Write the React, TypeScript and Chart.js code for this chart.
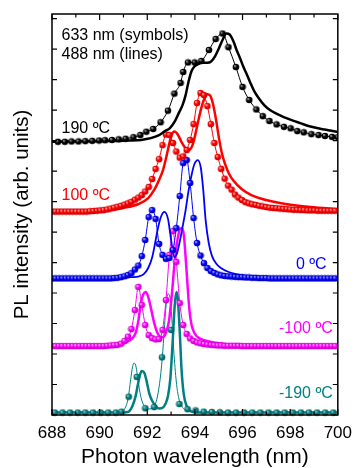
import React, { useEffect, useRef } from "react";
import { Chart, registerables } from "chart.js";

Chart.register(...registerables);

const FONT = "'Liberation Sans', Arial, Helvetica, sans-serif";

// axis ranges
const X_MIN = 688;
const X_MAX = 700;
const X_STEP = 2;
const Y_MIN = 0;
const Y_MAX = 13.15;

// dense wavelength grid (nm) shared by the 100, 0 and -100 ºC 633 nm spectra
const denseWl = [
  688.0, 688.145, 688.29, 688.435, 688.58, 688.725, 688.87, 689.015, 689.16, 689.305,
  689.45, 689.595, 689.74, 689.885, 690.03, 690.175, 690.32, 690.465, 690.61, 690.755,
  690.9, 691.045, 691.19, 691.335, 691.48, 691.625, 691.77, 691.915, 692.06, 692.205,
  692.35, 692.495, 692.64, 692.785, 692.93, 693.075, 693.22, 693.365, 693.51, 693.655,
  693.8, 693.945, 694.09, 694.235, 694.38, 694.525, 694.67, 694.815, 694.96, 695.105,
  695.25, 695.395, 695.54, 695.685, 695.83, 695.975, 696.12, 696.265, 696.41, 696.555,
  696.7, 696.845, 696.99, 697.135, 697.28, 697.425, 697.57, 697.715, 697.86, 698.005,
  698.15, 698.295, 698.44, 698.585, 698.73, 698.875, 699.02, 699.165, 699.31, 699.455,
  699.6, 699.745, 699.89,
];

// 100 ºC, 633 nm (symbols)
const red633 = [
  6.67, 6.67, 6.67, 6.67, 6.67, 6.67, 6.67, 6.67, 6.67, 6.67,
  6.67, 6.68, 6.69, 6.7, 6.71, 6.72, 6.74, 6.77, 6.8, 6.83,
  6.86, 6.9, 6.94, 6.99, 7.06, 7.13, 7.21, 7.33, 7.48, 7.74,
  8.07, 8.39, 8.85, 9.2, 9.18, 8.92, 8.64, 8.44, 8.48, 8.69,
  9.02, 9.54, 10.23, 10.56, 10.49, 10.13, 9.54, 8.92, 8.46, 8.07,
  7.75, 7.52, 7.39, 7.23, 7.13, 7.05, 6.98, 6.94, 6.91, 6.89,
  6.86, 6.84, 6.82, 6.8, 6.79, 6.78, 6.77, 6.76, 6.75, 6.74,
  6.73, 6.73, 6.72, 6.72, 6.71, 6.71, 6.71, 6.7, 6.7, 6.7,
  6.7, 6.7, 6.7,
];

// 0 ºC, 633 nm (symbols)
const blue633 = [
  4.48, 4.48, 4.48, 4.48, 4.48, 4.48, 4.48, 4.48, 4.48, 4.48,
  4.48, 4.48, 4.48, 4.48, 4.48, 4.48, 4.48, 4.48, 4.49, 4.5,
  4.52, 4.55, 4.59, 4.65, 4.77, 4.9, 5.21, 5.74, 6.49, 6.72,
  6.43, 5.61, 5.25, 5.12, 5.15, 5.41, 6.13, 7.18, 8.26, 8.36,
  7.61, 6.46, 5.64, 5.23, 4.98, 4.82, 4.72, 4.66, 4.61, 4.58,
  4.56, 4.55, 4.54, 4.53, 4.52, 4.52, 4.51, 4.51, 4.5, 4.5,
  4.49, 4.49, 4.49, 4.48, 4.48, 4.48, 4.48, 4.48, 4.48, 4.48,
  4.48, 4.48, 4.48, 4.48, 4.48, 4.48, 4.48, 4.48, 4.48, 4.48,
  4.48, 4.48, 4.48,
];

// -100 ºC, 633 nm (symbols)
const mag633 = [
  2.26, 2.26, 2.26, 2.26, 2.26, 2.26, 2.26, 2.26, 2.26, 2.26,
  2.26, 2.26, 2.26, 2.26, 2.26, 2.26, 2.27, 2.28, 2.29, 2.3,
  2.34, 2.43, 2.57, 2.82, 3.44, 4.2, 3.61, 2.95, 2.62, 2.52,
  2.48, 2.49, 2.79, 3.77, 5.25, 6.03, 5.02, 3.67, 2.95, 2.66,
  2.51, 2.43, 2.38, 2.35, 2.33, 2.31, 2.3, 2.29, 2.28, 2.28,
  2.27, 2.27, 2.27, 2.27, 2.27, 2.26, 2.26, 2.26, 2.26, 2.26,
  2.26, 2.26, 2.26, 2.26, 2.26, 2.26, 2.26, 2.26, 2.26, 2.26,
  2.26, 2.26, 2.26, 2.26, 2.26, 2.26, 2.26, 2.26, 2.26, 2.26,
  2.26, 2.26, 2.26,
];

// 190 ºC, 633 nm (symbols)
const black633Wl = [
  688.25, 688.54, 688.82, 689.11, 689.4, 689.69, 689.98, 690.23, 690.52, 690.8,
  691.09, 691.42, 691.71, 691.96, 692.25, 692.56, 692.87, 693.14, 693.4, 693.51,
  693.71, 693.99, 694.27, 694.59, 694.87, 695.16, 695.41, 695.72, 696.0, 696.28,
  696.58, 696.85, 697.13, 697.43, 697.74, 698.02, 698.3, 698.57, 698.89, 699.19,
  699.46, 699.76, 700.0,
];
const black633 = [
  8.96, 8.96, 8.97, 8.97, 8.98, 8.99, 9.0, 9.01, 9.02, 9.04,
  9.06, 9.11, 9.18, 9.29, 9.38, 9.6, 9.98, 10.54, 10.89, 11.25,
  11.56, 11.56, 11.61, 11.97, 12.33, 12.51, 12.06, 11.41, 10.76, 10.33,
  10.02, 9.8, 9.64, 9.53, 9.45, 9.4, 9.31, 9.27, 9.21, 9.18,
  9.15, 9.12, 9.11,
];

// -190 ºC, 633 nm (symbols)
const teal633Wl = [
  688.12, 688.44, 688.76, 689.08, 689.4, 689.72, 690.04, 690.36, 690.68, 690.92,
  691.22, 691.56, 691.92, 692.29, 692.62, 693.0, 693.35, 693.69, 694.03, 694.37,
  694.71, 695.05, 695.39, 695.73, 696.07, 696.41, 696.75, 697.09, 697.43, 697.77,
  698.11, 698.45, 698.79, 699.13, 699.47, 699.81,
];
const teal633 = [
  0.08, 0.08, 0.08, 0.08, 0.08, 0.08, 0.08, 0.08, 0.08, 0.11,
  0.6, 1.25, 0.22, 0.26, 1.89, 2.79, 0.36, 0.19, 0.15, 0.11,
  0.1, 0.09, 0.08, 0.08, 0.08, 0.08, 0.08, 0.08, 0.08, 0.08,
  0.08, 0.08, 0.08, 0.08, 0.08, 0.08,
];
// -190 ºC, thin curve through the 633 nm symbols
const tealFitWl = [
  688.0, 690.39, 690.8, 690.97, 691.09, 691.2, 691.3, 691.38, 691.44, 691.51,
  691.59, 691.69, 691.79, 691.92, 692.08, 692.25, 692.37, 692.49, 692.6, 692.7,
  692.78, 692.87, 692.95, 693.03, 693.11, 693.22, 693.32, 693.44, 693.61, 693.9,
  694.52, 700.0,
];
const tealFit = [
  0.08, 0.08, 0.09, 0.13, 0.26, 0.56, 1.15, 1.57, 1.7, 1.64,
  1.28, 0.75, 0.43, 0.25, 0.2, 0.25, 0.43, 0.89, 1.61, 2.62,
  3.51, 3.97, 3.87, 3.18, 2.13, 1.08, 0.56, 0.3, 0.16, 0.1,
  0.08, 0.08,
];

// 488 nm (lines)
const black488Wl = [
  688.0, 689.98, 691.22, 691.75, 692.45, 692.74, 692.95, 693.15, 693.32, 693.48,
  693.61, 693.73, 693.86, 693.98, 694.14, 694.31, 694.52, 694.68, 694.85, 695.01,
  695.18, 695.32, 695.46, 695.63, 695.75, 695.9, 696.04, 696.19, 696.33, 696.49,
  696.66, 696.91, 697.15, 697.4, 697.73, 698.06, 698.43, 698.85, 699.26, 699.67,
  700.0,
];
const black488 = [
  8.96, 8.98, 9.0, 9.02, 9.16, 9.31, 9.41, 9.62, 9.9, 10.16,
  10.49, 10.92, 11.28, 11.43, 11.51, 11.55, 11.55, 11.59, 11.77, 12.03,
  12.33, 12.51, 12.48, 12.23, 11.97, 11.69, 11.41, 11.15, 10.89, 10.62,
  10.41, 10.16, 10.0, 9.89, 9.77, 9.67, 9.57, 9.46, 9.39, 9.33,
  9.28,
];
const red488Wl = [
  688.0, 689.57, 690.39, 691.01, 691.63, 692.04, 692.29, 692.49, 692.66, 692.8,
  692.91, 693.03, 693.15, 693.28, 693.44, 693.61, 693.75, 693.9, 694.02, 694.14,
  694.27, 694.39, 694.52, 694.64, 694.76, 694.89, 695.01, 695.13, 695.28, 695.42,
  695.63, 695.96, 696.37, 696.99, 697.81, 698.85, 700.0,
];
const red488 = [
  6.64, 6.66, 6.71, 6.79, 6.92, 7.11, 7.38, 7.7, 8.03, 8.46,
  8.85, 9.2, 9.3, 9.2, 8.95, 8.75, 8.69, 8.85, 9.21, 9.64,
  10.07, 10.36, 10.52, 10.48, 10.2, 9.67, 9.08, 8.59, 8.2, 7.93,
  7.67, 7.41, 7.21, 7.05, 6.92, 6.82, 6.75,
];
const blue488Wl = [
  688.0, 689.98, 690.8, 691.3, 691.63, 691.84, 692.04, 692.21, 692.33, 692.45,
  692.58, 692.72, 692.87, 692.99, 693.13, 693.24, 693.36, 693.48, 693.61, 693.73,
  693.86, 693.98, 694.12, 694.25, 694.35, 694.45, 694.58, 694.72, 694.89, 695.09,
  695.42, 695.96, 696.78, 698.23, 700.0,
];
const blue488 = [
  4.48, 4.48, 4.49, 4.52, 4.54, 4.61, 4.82, 5.18, 5.64, 6.13,
  6.51, 6.66, 6.43, 5.8, 5.18, 5.28, 5.67, 6.16, 6.72, 7.34,
  7.87, 8.23, 8.36, 8.1, 7.38, 6.39, 5.64, 5.21, 4.97, 4.82,
  4.69, 4.59, 4.52, 4.49, 4.48,
];
const mag488Wl = [
  688.0, 689.98, 690.6, 691.01, 691.22, 691.38, 691.51, 691.63, 691.73, 691.84,
  691.94, 692.04, 692.16, 692.29, 692.41, 692.54, 692.66, 692.78, 692.91, 693.03,
  693.15, 693.28, 693.36, 693.44, 693.53, 693.61, 693.69, 693.77, 693.86, 693.98,
  694.14, 694.35, 694.6, 694.93, 695.42, 696.16, 697.4, 700.0,
];
const mag488 = [
  2.26, 2.26, 2.28, 2.34, 2.43, 2.52, 2.69, 3.11, 3.67, 3.97,
  4.03, 3.87, 3.48, 3.02, 2.72, 2.57, 2.56, 2.69, 3.08, 3.93,
  5.02, 5.8, 6.07, 6.13, 5.93, 5.18, 4.26, 3.44, 2.95, 2.69,
  2.54, 2.46, 2.41, 2.36, 2.32, 2.28, 2.27, 2.26,
];
const teal488Wl = [
  688.0, 691.01, 691.22, 691.38, 691.51, 691.61, 691.69, 691.77, 691.88, 691.98,
  692.08, 692.21, 692.35, 692.49, 692.64, 692.76, 692.87, 692.97, 693.07, 693.15,
  693.22, 693.28, 693.36, 693.44, 693.53, 693.65, 693.81, 694.1, 700.0,
];
const teal488 = [
  0.08, 0.08, 0.11, 0.3, 0.62, 1.02, 1.31, 1.44, 1.38, 1.08,
  0.72, 0.46, 0.3, 0.21, 0.23, 0.36, 0.62, 1.21, 2.46, 3.57,
  4.03, 3.84, 2.79, 1.48, 0.69, 0.3, 0.13, 0.08, 0.08,
];

// text labels
const labelTexts = ["633 nm (symbols)", "488 nm (lines)", "190 ºC", "100 ºC", "0 ºC", "-100 ºC", "-190 ºC"];
const labelWl = [688.4, 688.4, 688.4, 688.4, 699.53, 699.79, 699.79];
const labelVal = [12.31, 11.66, 9.26, 7.05, 4.79, 2.7, 0.56];
const labelAlign = ["left", "left", "left", "left", "right", "right", "right"];
const labelColors = ["#000000", "#000000", "#000000", "#ff0000", "#0000ff", "#ff00ff", "#008080"];

function makeSphere(base: string, light: string, dark: string) {
  const c = document.createElement("canvas");
  c.width = 8;
  c.height = 8;
  const g = c.getContext("2d")!;
  const r = 3.3;
  const cx = 4, cy = 4;
  const grad = g.createRadialGradient(cx - r * 0.4, cy - r * 0.4, 0, cx, cy, r);
  grad.addColorStop(0, light);
  grad.addColorStop(0.5, base);
  grad.addColorStop(1, dark);
  g.fillStyle = grad;
  g.beginPath();
  g.arc(cx, cy, r, 0, Math.PI * 2);
  g.fill();
  return c;
}

function pts(wl: number[], v: number[]) {
  return wl.map((x, i) => ({ x, y: v[i] }));
}

const symClip = { left: 0, right: 0, top: 0, bottom: 5 };

function symSet(wl: number[], v: number[], color: string, img: HTMLCanvasElement, showLine = true) {
  return {
    data: pts(wl, v),
    showLine,
    borderColor: color,
    backgroundColor: color,
    borderWidth: 1,
    pointStyle: img,
    pointRadius: 3.3,
    cubicInterpolationMode: "monotone",
    clip: symClip,
  };
}

function lineSet(wl: number[], v: number[], color: string, width: number) {
  return {
    data: pts(wl, v),
    showLine: true,
    borderColor: color,
    backgroundColor: color,
    borderWidth: width,
    pointRadius: 0,
    cubicInterpolationMode: "monotone",
  };
}

const framePlugin = {
  id: "frameAndLabels",
  afterDatasetsDraw(chart: any) {
    const { ctx, chartArea: a, scales } = chart;
    const xs = scales.x;
    const ys = scales.y;
    ctx.save();
    ctx.strokeStyle = "#000";
    ctx.lineWidth = 1.5;
    ctx.strokeRect(a.left, a.top, a.right - a.left, a.bottom - a.top);
    ctx.lineWidth = 1.2;
    ctx.beginPath();
    const nx = Math.round(X_MAX - X_MIN);
    for (let i = 0; i <= nx; i++) {
      const px = xs.getPixelForValue(X_MIN + i);
      const len = i % X_STEP === 0 ? 6 : 3.5;
      ctx.moveTo(px, a.bottom);
      ctx.lineTo(px, a.bottom - len);
      ctx.moveTo(px, a.top);
      ctx.lineTo(px, a.top + len);
    }
    for (let v = Y_MIN; v <= Y_MAX; v += 1) {
      const py = ys.getPixelForValue(v);
      ctx.moveTo(a.left, py);
      ctx.lineTo(a.left + 5, py);
      ctx.moveTo(a.right, py);
      ctx.lineTo(a.right - 5, py);
    }
    ctx.stroke();

    ctx.font = `16px ${FONT}`;
    ctx.textBaseline = "alphabetic";
    labelTexts.forEach((t, i) => {
      ctx.fillStyle = labelColors[i];
      ctx.textAlign = labelAlign[i];
      ctx.fillText(t, xs.getPixelForValue(labelWl[i]), ys.getPixelForValue(labelVal[i]));
    });
    ctx.restore();
  },
};

export default function App() {
  const ref = useRef<HTMLCanvasElement | null>(null);

  useEffect(() => {
    if (!ref.current) return;
    const sBlack = makeSphere("#000000", "#c8c8c8", "#000000");
    const sRed = makeSphere("#ff0000", "#ffd8d8", "#c80000");
    const sBlue = makeSphere("#0000ff", "#d0d0ff", "#0000b0");
    const sMag = makeSphere("#ff00ff", "#ffd8ff", "#c000c0");
    const sTeal = makeSphere("#008080", "#b0e0e0", "#005a5a");

    const datasets: any[] = [
      symSet(black633Wl, black633, "#000000", sBlack),
      lineSet(black488Wl, black488, "#000000", 2.5),
      symSet(denseWl, red633, "#ff0000", sRed),
      lineSet(red488Wl, red488, "#ff0000", 2.5),
      symSet(denseWl, blue633, "#0000ff", sBlue),
      lineSet(blue488Wl, blue488, "#0000ff", 1.8),
      symSet(denseWl, mag633, "#ff00ff", sMag),
      lineSet(mag488Wl, mag488, "#ff00ff", 2.5),
      symSet(teal633Wl, teal633, "#008080", sTeal, false),
      lineSet(tealFitWl, tealFit, "#008080", 1),
      lineSet(teal488Wl, teal488, "#008080", 2.5),
    ];

    const chart = new Chart(ref.current, {
      type: "scatter",
      data: { datasets },
      options: {
        animation: false,
        responsive: true,
        maintainAspectRatio: false,
        events: [],
        layout: { padding: { left: 0, top: 14, right: 17, bottom: 0 } },
        plugins: { legend: { display: false }, tooltip: { enabled: false } },
        scales: {
          x: {
            type: "linear",
            min: X_MIN,
            max: X_MAX,
            grid: { display: false, drawTicks: false },
            border: { display: false },
            ticks: {
              stepSize: X_STEP,
              color: "#000",
              padding: 8,
              font: { family: FONT, size: 17 },
              callback: (v: any) => String(v),
            },
            title: {
              display: true,
              text: "Photon wavelength (nm)",
              color: "#000",
              font: { family: FONT, size: 21 },
              padding: { top: 0, bottom: -2 },
            },
            afterFit: (s: any) => {
              s.height = 53;
            },
          },
          y: {
            type: "linear",
            min: Y_MIN,
            max: Y_MAX,
            grid: { display: false, drawTicks: false },
            border: { display: false },
            ticks: { display: false },
            title: {
              display: true,
              text: "PL intensity (arb. units)",
              color: "#000",
              font: { family: FONT, size: 20.5 },
              padding: { top: 10, bottom: 0 },
            },
            afterFit: (s: any) => {
              s.width = 52;
            },
          },
        },
      },
      plugins: [framePlugin],
    } as any);
    return () => chart.destroy();
  }, []);

  return (
    <div style={{ position: "fixed", left: 0, top: 0, width: 360, height: 468, background: "#fff" }}>
      <canvas ref={ref} />
    </div>
  );
}
